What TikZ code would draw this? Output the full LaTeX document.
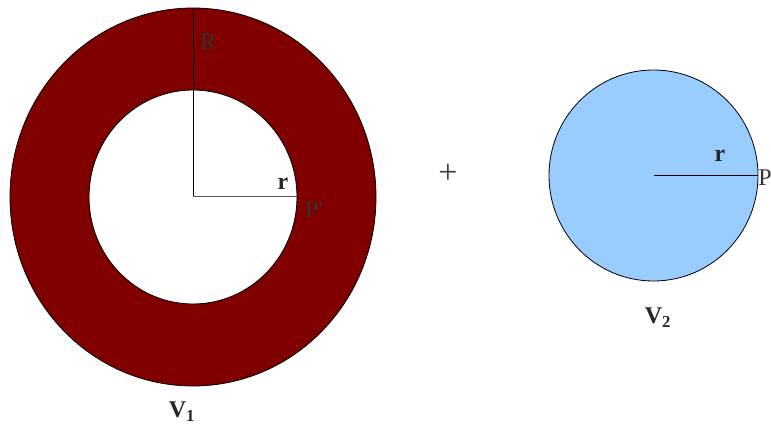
\documentclass[tikz,border=0pt]{standalone}
\usepackage{fontspec}
\setmainfont{Liberation Serif}
\definecolor{ringred}{HTML}{800000}
\definecolor{lightblue}{HTML}{99CCFF}
\definecolor{lblgray}{HTML}{333333}
\begin{document}
\begin{tikzpicture}[x=1pt,y=-1pt,
  lbl/.style={text=lblgray,font=\fontsize{24}{27}\selectfont,inner sep=0pt},
  blbl/.style={text=black!85,font=\bfseries\fontsize{24}{27}\selectfont,inner sep=0pt},
  edge/.style={draw=black,line width=0.8pt}]
\useasboundingbox (0,0) rectangle (771,430);
% ring
\fill[ringred,even odd rule] (193,197) ellipse [x radius=183,y radius=189]
  (193,197) ellipse [x radius=104,y radius=107];
\draw[edge] (193,197) ellipse [x radius=183,y radius=189];
\draw[edge] (193,197) ellipse [x radius=104,y radius=107];
\coordinate (c1) at (193,197);
\coordinate (top) at (193,8);
\coordinate (pp) at (297,197);
\draw[line width=1pt] (top) -- (c1);
\draw[line width=1pt,draw=black!65] (c1) -- (pp);
\node[lbl] (R) at (208,42) {R};
\node[blbl] (r1) at (283,184) {r};
\node[lbl] (P1) at (314,210) {P\textquotesingle};
\node[blbl] (V1) at (182,412) {V\textsubscript{1}};
% plus
\node[text=black!75,font=\fontsize{34}{36}\selectfont,inner sep=0pt] (plus) at (448,174) {+};
% small circle
\draw[edge,fill=lightblue] (653.5,175.5) ellipse [x radius=104.5,y radius=105.5];
\coordinate (c2) at (654,176);
\coordinate (p2) at (758,176);
\draw[line width=1pt] (c2) -- (p2);
\node[blbl] (r2) at (720,156) {r};
\node[lbl] (P2) at (765,178) {P};
\node[blbl] (V2) at (658,318) {V\textsubscript{2}};
\end{tikzpicture}
\end{document}
